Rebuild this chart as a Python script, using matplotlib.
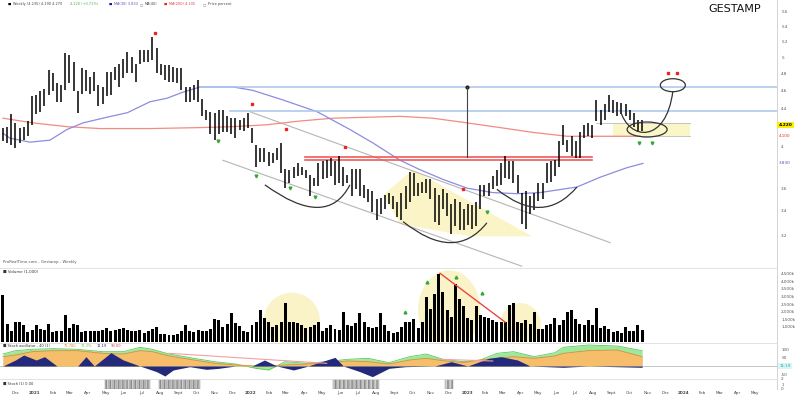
import numpy as np
import pandas as pd
import matplotlib
matplotlib.use("Agg")
import matplotlib.pyplot as plt
import matplotlib.transforms as mtransforms
from matplotlib.patches import Ellipse, Polygon, PathPatch
from matplotlib.path import Path

plt.rcParams['font.family'] = ['DejaVu Sans']

# -------------------------------
# DATA (weekly bars)
# -------------------------------
start_date = "2020-11-09"

highs = [4.19, 4.20, 4.33, 4.24, 4.19, 4.20, 4.26, 4.53, 4.55, 4.59,
         4.62, 4.84, 4.80, 4.68, 4.66, 5.05, 5.03, 4.94, 4.59, 4.86,
         4.84, 4.76, 4.82, 4.66, 4.64, 4.82, 4.82, 4.88, 4.92, 4.98,
         5.07, 5.00, 4.92, 5.09, 5.09, 5.09, 5.26, 5.11, 4.92, 4.90,
         4.90, 4.88, 4.86, 4.86, 4.64, 4.64, 4.66, 4.72, 4.50, 4.38,
         4.36, 4.35, 4.38, 4.38, 4.31, 4.29, 4.29, 4.27, 4.29, 4.35,
         4.19, 4.01, 3.98, 3.98, 3.94, 3.93, 3.98, 4.03, 3.78, 3.77,
         3.80, 3.83, 3.80, 3.77, 3.72, 3.69, 3.83, 3.85, 3.86, 3.88,
         3.85, 3.90, 3.80, 3.72, 3.78, 3.78, 3.78, 3.63, 3.59, 3.57,
         3.50, 3.51, 3.54, 3.56, 3.53, 3.48, 3.56, 3.62, 3.75, 3.74,
         3.65, 3.66, 3.68, 3.68, 3.60, 3.54, 3.59, 3.56, 3.46, 3.50,
         3.48, 3.42, 3.46, 3.45, 3.48, 3.63, 3.63, 3.65, 3.71, 3.77,
         3.83, 3.90, 3.85, 3.85, 3.72, 3.56, 3.57, 3.53, 3.56, 3.65,
         3.65, 3.83, 3.85, 3.86, 4.05, 4.22, 4.06, 4.10, 4.05, 4.14,
         4.22, 4.24, 4.22, 4.49, 4.38, 4.44, 4.55, 4.49, 4.47, 4.46,
         4.44, 4.38, 4.35, 4.27, 4.27]

lows = [4.05, 4.03, 4.01, 3.98, 4.03, 4.06, 4.10, 4.22, 4.33, 4.36,
        4.42, 4.55, 4.59, 4.47, 4.47, 4.60, 4.68, 4.59, 4.35, 4.56,
        4.59, 4.56, 4.59, 4.42, 4.44, 4.53, 4.55, 4.72, 4.64, 4.74,
        4.80, 4.80, 4.70, 4.92, 4.94, 4.94, 4.96, 4.80, 4.78, 4.72,
        4.70, 4.70, 4.68, 4.60, 4.47, 4.47, 4.49, 4.47, 4.31, 4.27,
        4.12, 4.06, 4.12, 4.14, 4.14, 4.12, 4.08, 4.17, 4.15, 4.19,
        4.03, 3.80, 3.84, 3.84, 3.81, 3.83, 3.86, 3.74, 3.60, 3.65,
        3.69, 3.71, 3.72, 3.69, 3.53, 3.62, 3.62, 3.68, 3.69, 3.71,
        3.63, 3.65, 3.62, 3.65, 3.53, 3.59, 3.53, 3.51, 3.48, 3.39,
        3.32, 3.37, 3.42, 3.46, 3.42, 3.35, 3.32, 3.42, 3.48, 3.53,
        3.53, 3.56, 3.56, 3.50, 3.31, 3.28, 3.42, 3.36, 3.21, 3.27,
        3.24, 3.24, 3.28, 3.25, 3.27, 3.42, 3.53, 3.53, 3.59, 3.62,
        3.63, 3.69, 3.68, 3.65, 3.56, 3.29, 3.25, 3.37, 3.41, 3.49,
        3.50, 3.65, 3.66, 3.71, 3.80, 4.01, 3.94, 3.90, 3.88, 3.88,
        4.08, 4.10, 4.08, 4.26, 4.22, 4.27, 4.36, 4.35, 4.31, 4.33,
        4.31, 4.27, 4.20, 4.14, 4.15]

last_close = 4.22

# volume in thousands of shares
volume = [3080, 1200, 700, 1300, 1300, 1100, 650, 800, 1150, 850,
          800, 1200, 650, 700, 750, 1800, 900, 1200, 1150, 650,
          700, 750, 700, 750, 800, 900, 700, 800, 850, 900,
          800, 750, 700, 800, 600, 700, 850, 1000, 550, 500,
          450, 450, 500, 750, 1100, 700, 650, 800, 700, 750,
          850, 1500, 1450, 1000, 1200, 1900, 1250, 1050, 700, 650,
          1100, 1300, 2100, 1600, 1300, 1000, 1150, 1350, 2550, 1300,
          1300, 1250, 1100, 900, 1000, 1150, 1300, 700, 900, 1100,
          850, 800, 1950, 1100, 1050, 1250, 1900, 1300, 1000, 900,
          1000, 1900, 1150, 700, 600, 650, 1000, 1300, 1300, 1500,
          950, 1300, 3000, 2150, 3150, 4500, 3300, 2100, 1650, 3800,
          2850, 2400, 1550, 1450, 2400, 1750, 1650, 1550, 1450, 1300,
          1300, 1300, 2450, 2550, 1300, 1250, 1430, 1200, 1980, 840,
          880, 1100, 1210, 1600, 1100, 1430, 1980, 2090, 1540, 1210,
          1100, 1430, 1100, 2270, 920, 1060, 880, 660, 700, 600,
          990, 730, 730, 1120, 790]

# moving averages (bar index, price)
ma_blue_idx = [0, 1.7, 6.5, 11.3, 15.4, 19.3, 25, 30, 35.4, 39.5, 43.4, 47.5,
               55.4, 60.2, 67.5, 75.7, 83.6, 89.2, 95.7, 100.5, 106, 111.8,
               118, 123.9, 129.4, 138.3, 143.9, 150.4, 154.2]
ma_blue = [4.13, 4.08, 4.04, 4.06, 4.17, 4.24, 4.30, 4.35, 4.47, 4.51, 4.58, 4.64,
           4.64, 4.60, 4.49, 4.36, 4.17, 4.03, 3.86, 3.77, 3.68, 3.60,
           3.56, 3.55, 3.56, 3.61, 3.70, 3.79, 3.83]
ma_red_idx = [0, 7.2, 15.4, 23.4, 35.4, 47.5, 55.4, 63.6, 71.6, 79.5, 87.7,
              95.7, 103.6, 111.8, 119.8, 127.7, 135.9, 141.4, 148, 153.5]
ma_red = [4.29, 4.24, 4.20, 4.18, 4.18, 4.19, 4.20, 4.22, 4.26, 4.29, 4.30,
          4.31, 4.29, 4.24, 4.19, 4.14, 4.10, 4.10, 4.10, 4.10]

# oscillator panel
ind_idx = [0, 3, 7, 12, 18, 24, 29, 33, 36, 40, 46, 51, 56, 61, 64, 68, 73,
           78, 83, 88, 93, 98, 102, 106, 111, 115, 119, 123, 128, 133, 135,
           141, 148, 154]
ind_green = [72, 92, 100, 104, 100, 86, 86, 112, 100, 72, 46, 26, 12, -14, -24,
             26, 16, 26, 40, 46, 20, 56, 72, 40, 26, 36, 76, 86, 56, 80, 112,
             126, 120, 92]
ind_orange = [56, 66, 86, 92, 92, 76, 72, 92, 86, 60, 36, 16, 6, 0, 0, 6, 12,
              20, 30, 26, 12, 36, 46, 32, 20, 36, 46, 56, 46, 60, 76, 92, 96, 56]
navy_idx = [0, 3, 5, 8, 10, 13, 18, 20, 22, 26, 29, 33, 37, 39, 41, 45, 49, 52,
            56, 60, 63, 66, 70, 73, 80, 82, 86, 89, 93, 97, 104, 108, 112, 117,
            120, 124, 127, 135, 141, 154]
ind_navy = [0, 36, 66, 36, 56, 0, 0, 56, 0, 80, 36, 0, -34, -60, -24, -4, -20,
            -14, 0, 0, 36, 0, -24, -4, 52, 0, -34, -64, -14, -4, 0, 26, 0, 46,
            56, 36, 0, -8, 0, -8]

# bottom signal panel: weeks flagged
signal_bars = list(range(25, 36)) + list(range(38, 48)) + list(range(80, 91)) + [107, 108]

price_ticks = [3.2, 3.4, 3.6, 4.0, 4.4, 4.6, 4.8, 5.0, 5.2, 5.4, 5.6]

# -------------------------------
# FIGURE / PANELS
# -------------------------------
W, H = 800, 395
fig = plt.figure(figsize=(W / 100, H / 100), dpi=100)
fig.patch.set_facecolor('white')


def panel(top, bottom):
    return fig.add_axes([0, 1 - bottom / H, 777 / W, (bottom - top) / H])


ax = panel(0, 267)
axv = panel(268, 342)
axi = panel(343, 378)
axs = panel(379, 389)

xlim = (-0.72, 186.5)
for a in (ax, axv, axi, axs):
    a.set_xlim(*xlim)
    a.set_facecolor('white')
    for s in ('left', 'bottom'):
        a.spines[s].set_visible(False)
    a.spines['top'].set_color('#dddddd')
    a.spines['right'].set_color('#cccccc')
    a.spines['top'].set_linewidth(0.6)
    a.spines['right'].set_linewidth(0.6)
    a.yaxis.tick_right()
    a.tick_params(axis='y', length=0, labelsize=3, colors='#555555', pad=3)
    a.tick_params(axis='x', length=0)
    a.set_xticks([])
ax.spines['top'].set_visible(False)

idx = np.arange(len(highs))

# ---- price panel
ax.set_yscale('log')
ax.set_ylim(2.954, 5.77)
ax.set_yticks(price_ticks)
ax.set_yticklabels(['%g' % t for t in price_ticks])
ax.minorticks_off()

# channel lines
ax.plot([59.5, 146.3], [4.36, 3.14], color='#b5b5b5', lw=0.8)
ax.plot([53, 125], [3.86, 2.96], color='#b5b5b5', lw=0.8)

# wedge shading
ax.add_patch(Polygon([(91.6, 3.54), (98.8, 3.77), (127.5, 3.19), (112.5, 3.19), (95.7, 3.29)],
                     closed=True, fc='#fbf3c0', ec='none', alpha=0.9, zorder=1))
# box near the right
ax.fill_between([147, 165.5], 4.10, 4.24, color='#fbf6c8', zorder=1, lw=0)
ax.plot([143, 165.5], [4.24, 4.24], color='#bbbbbb', lw=0.6)
ax.plot([140.7, 165.5], [4.10, 4.10], color='#bbbbbb', lw=0.6)

# moving averages
ax.plot(ma_red_idx, ma_red, color='#f28b82', lw=0.9, zorder=2)
ax.plot(ma_blue_idx, ma_blue, color='#8c8ce0', lw=0.9, zorder=2)

# horizontal levels
ax.plot([47.5, 186.5], [4.64, 4.64], color='#a9c5ec', lw=1.1, zorder=2)
ax.plot([54.7, 186.5], [4.37, 4.37], color='#a9c5ec', lw=1.1, zorder=2)
ax.plot([72.8, 142], [3.89, 3.89], color='#f05a5a', lw=1.2, zorder=3)
ax.plot([72.8, 142], [3.86, 3.86], color='#f05a5a', lw=1.2, zorder=3)

# measured move
ax.plot([111.8, 111.8], [3.89, 4.64], color='#444444', lw=0.8, zorder=3)
ax.plot([111.8], [4.64], 'o', color='#222222', ms=2)

# weekly bars
ax.vlines(idx, lows, highs, color='black', lw=1.1, zorder=4)


def cup(p0, pm, p2):
    cx = 2 * pm[0] - (p0[0] + p2[0]) / 2
    cy = np.exp(2 * np.log(pm[1]) - (np.log(p0[1]) + np.log(p2[1])) / 2)
    path = Path([p0, (cx, cy), p2], [Path.MOVETO, Path.CURVE3, Path.CURVE3])
    ax.add_patch(PathPatch(path, fc='none', ec='#333333', lw=0.9, zorder=5))


cup((63.1, 3.63), (75.7, 3.43), (83.6, 3.63))
cup((96.4, 3.31), (107.7, 3.14), (116.6, 3.30))
cup((119, 3.59), (129.4, 3.43), (138.3, 3.61))

# projected path to target ellipse
swoop = Path([(148.7, 4.38), (150.8, 4.05), (159.8, 4.02), (161.4, 4.59)],
             [Path.MOVETO, Path.CURVE4, Path.CURVE4, Path.CURVE4])
ax.add_patch(PathPatch(swoop, fc='none', ec='#333333', lw=0.9, zorder=5))


def px_ellipse(a, xc, yc, w_px, h_px):
    tr = fig.dpi_scale_trans + mtransforms.ScaledTranslation(xc, yc, a.transData)
    a.add_patch(Ellipse((0, 0), w_px / fig.dpi, h_px / fig.dpi, transform=tr,
                        fc='none', ec='#333333', lw=0.9, zorder=5))


px_ellipse(ax, 155.2, 4.17, 40, 15)
px_ellipse(ax, 161.4, 4.66, 25, 13)

# signal markers
red_x = [36.6, 60, 68.2, 82.4, 110.8, 160.2, 162.4]
red_y = [5.31, 4.44, 4.18, 3.99, 3.59, 4.80, 4.80]
green_x = [51.8, 61, 69.2, 75.2, 116.6, 153.3, 156.4]
green_y = [4.05, 3.71, 3.60, 3.52, 3.39, 4.03, 4.03]
ax.plot(red_x, red_y, 's', color='#ee2222', ms=1.8, zorder=6)
ax.plot(green_x, green_y, 'v', color='#33aa33', ms=2.0, zorder=6)

# right-side value tags
tag_x = 1.002


def tag_y(v):
    return ax.transAxes.inverted().transform(ax.transData.transform((0, v)))[1]


ax.text(tag_x, tag_y(last_close), '%.3f' % last_close, transform=ax.transAxes, fontsize=3.2,
        fontweight='bold', va='center', ha='left',
        bbox=dict(boxstyle='square,pad=0.25', fc='#ffee00', ec='none'))
ax.text(tag_x, tag_y(ma_red[-1]), '%.3f' % ma_red[-1], transform=ax.transAxes, fontsize=3,
        color='#e03030', va='center', ha='left')
ax.text(tag_x, tag_y(ma_blue[-1]), '%.3f' % ma_blue[-1], transform=ax.transAxes, fontsize=3,
        color='#5050c0', va='center', ha='left')

ax.text(0.004, 0.012, 'ProRealTime.com - Gestamp - Weekly', transform=ax.transAxes,
        fontsize=2.8, color='#555555', va='bottom')

# ---- volume panel
axv.set_ylim(0, 4880)
axv.add_patch(Ellipse((69.6, 1445), 13.5, 3614, fc='#fbf3c8', ec='none', zorder=0))
axv.add_patch(Ellipse((107.5, 2100), 15, 5256, fc='#fbf3c8', ec='none', zorder=0))
axv.add_patch(Ellipse((124.7, 1117), 9.9, 2890, fc='#fbf3c8', ec='none', zorder=0))
axv.bar(idx, volume, width=0.72, color='black', zorder=2)
axv.plot([105.3, 121], [4530, 1310], color='#ee4444', lw=1.0, zorder=3)
axv.plot([96.9, 102.2, 109.2, 115.4], [1970, 3940, 4270, 3220], '^',
         color='#33aa33', ms=2.0, zorder=4)
vt = [1000, 1500, 2000, 2500, 3000, 3500, 4000, 4500]
axv.set_yticks(vt)
axv.set_yticklabels(['{:,}k'.format(v) for v in vt])
axv.text(0.004, 0.97, '\u25a0 Volume (1,000)', transform=axv.transAxes,
         fontsize=2.8, color='#333333', va='top')

# ---- oscillator panel
axi.set_ylim(-72, 138)
gi = np.array(ind_idx, dtype=float)
axi.fill_between(gi, 0, ind_green, color='#9ee89a', lw=0, zorder=1)
axi.plot(gi, ind_green, color='#5cc95c', lw=0.6, zorder=2)
axi.fill_between(gi, 0, ind_orange, color='#f6bd6a', lw=0, zorder=3)
axi.plot(gi, ind_orange, color='#e8873a', lw=0.6, zorder=4)
axi.fill_between(navy_idx, 0, ind_navy, color='#232a7c', lw=0, zorder=5)
axi.plot([40, 78], [76, 16], color='#f4a0a0', lw=0.8, zorder=6)
axi.plot([105.5, 118], [40, 30], color='#f4a0a0', lw=0.8, zorder=6)
axi.axhline(0, color='#999999', lw=0.4, zorder=0)
axi.set_yticks([-50, 50, 100])
axi.set_yticklabels(['-50', '50', '100'])
osc_leg = [(0.004, '\u25a0 Stoch oscillator - 40 (1)', '#333333'), (0.082, '75.780', '#e8873a'),
           (0.104, '71.3%', '#5cc95c'), (0.124, '11.19', '#232a7c'), (0.143, '99.00', '#e04040')]
for xp, t, c in osc_leg:
    axi.text(xp, 0.96, t, transform=axi.transAxes, fontsize=2.6, color=c, va='top')
axi.text(1.003, 0.34, '11.19', transform=axi.transAxes, fontsize=3, color='#22aaaa',
         va='center', ha='left', bbox=dict(boxstyle='square,pad=0.2', fc='#d8f6f6', ec='none'))

# ---- signal panel
axs.set_ylim(0, 1)
axs.bar(signal_bars, [1] * len(signal_bars), width=1.0, color='#d0d0d0',
        edgecolor='#8a8a8a', hatch='||||', lw=0.3)
axs.set_yticks([0, 0.5, 1])
axs.set_yticklabels(['0', '1', '2'])
axs.text(0.004, 0.5, '\u25a0 Stoch (1) 0.00', transform=axs.transAxes,
         fontsize=2.6, color='#333333', va='center')

# month labels on the bottom axis
start = pd.Timestamp(start_date)
months = pd.date_range("2020-12-01", "2024-05-01", freq="MS")
pos = [(m - start).days / 7 for m in months]
names = {9: 'Sept'}
labs = [str(m.year) if m.month == 1 else names.get(m.month, m.strftime('%b')) for m in months]
axs.set_xticks(pos)
axs.set_xticklabels(labs)
axs.tick_params(axis='x', labelsize=3, colors='#444444', pad=1.5)
for lab, m in zip(axs.get_xticklabels(), months):
    if m.month == 1:
        lab.set_fontweight('bold')

# ---- title and top legend
fig.text(735 / W, 1 - 9 / H, 'GESTAMP', fontsize=8, ha='center', va='center', color='#111111')

leg = [(8, '\u25a0', 'black'), (13, 'Weekly (4.235) 4.190 4.270', '#444444'),
       (70, '4.220 (+0.71%)', '#4caf50'), (109, '\u25a0', '#1a1aa0'),
       (114, 'MA(30) 3.833', '#5050c0'), (140, '\u25a1', '#888888'), (145, 'MA(40)', '#444444'),
       (164, '\u25a0', '#ee2222'), (169, 'MA(200) 4.105', '#e04040'),
       (203, '\u25a1', '#888888'), (208, 'Price percent', '#444444')]
for xp, t, c in leg:
    fig.text(xp / W, 1 - 4 / H, t, fontsize=2.5, color=c, ha='left', va='center')

fig.savefig("out.png", dpi=100, facecolor='white')
